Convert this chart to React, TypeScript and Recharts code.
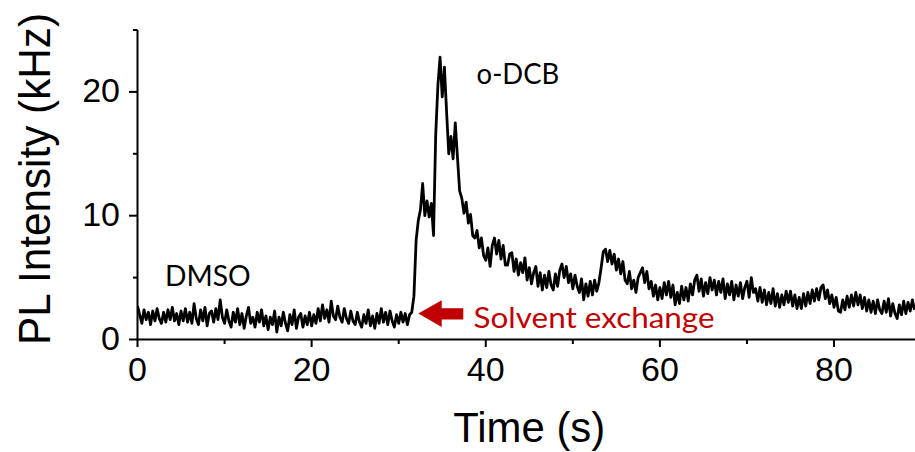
import React from "react";
import { LineChart, Line, XAxis, YAxis, ReferenceDot } from "recharts";

// Sampling interval of the recorded trace (s)
const sampleStep = 0.25;

// PL intensity (kHz), one value every 0.25 s starting at t = 0 s
const intensity: number[] = [
  // 0 – 4.75 s
  2.7, 2.0, 1.3, 2.4, 1.6, 2.2, 1.2, 2.3, 1.5, 2.5, 1.7, 1.3, 2.2, 1.4, 2.4, 1.6, 2.6, 1.5, 2.1, 1.2,
  // 5 – 9.75 s
  2.3, 1.5, 2.5, 1.4, 2.2, 1.3, 2.9, 1.7, 1.2, 2.4, 1.5, 2.6, 1.1, 2.1, 2.3, 1.4, 2.5, 1.6, 3.2, 1.8,
  // 10 – 14.75 s
  1.3, 2.4, 1.5, 1.0, 2.2, 1.4, 2.5, 1.2, 2.1, 0.9, 1.9, 2.6, 1.3, 1.8, 1.0, 2.2, 1.4, 2.4, 1.1, 1.9,
  // 15 – 19.75 s
  0.8, 1.8, 1.2, 2.3, 0.6, 1.8, 1.1, 2.2, 1.3, 0.7, 2.0, 1.2, 2.4, 0.9, 1.8, 2.1, 1.0, 1.9, 1.2, 2.2,
  // 20 – 24.75 s
  1.1, 2.0, 1.3, 2.5, 1.5, 2.8, 1.7, 2.4, 1.4, 3.1, 1.9, 1.6, 2.7, 1.8, 1.4, 2.5, 1.7, 1.3, 2.3, 1.5,
  // 25 – 29.75 s
  1.2, 2.2, 1.4, 1.0, 2.0, 1.3, 2.4, 1.1, 1.9, 0.9, 2.1, 1.3, 2.5, 1.4, 2.2, 1.2, 2.3, 1.5, 1.0, 2.0,
  // 30 – 34.75 s
  1.3, 2.2, 1.4, 2.1, 1.2, 2.0, 2.2, 3.5, 8.0, 9.6, 10.5, 12.6, 10.0, 11.2, 9.9, 11.0, 8.4, 16.5, 20.5, 22.8,
  // 35 – 39.75 s
  19.6, 22.0, 18.4, 15.0, 16.4, 14.6, 17.5, 14.7, 12.0, 11.4, 10.2, 11.1, 9.4, 10.1, 8.4, 8.2, 8.8, 7.4, 8.2, 6.8,
  // 40 – 44.75 s
  6.4, 7.4, 5.9, 7.6, 8.2, 6.9, 8.0, 6.5, 7.6, 6.0, 6.0, 6.9, 7.0, 5.5, 6.5, 5.2, 6.2, 5.4, 6.6, 4.8,
  // 45 – 49.75 s
  5.8, 4.5, 5.4, 5.9, 4.3, 5.4, 4.0, 5.2, 4.2, 5.5, 4.4, 4.0, 5.3, 4.3, 5.6, 6.1, 5.0, 5.9, 4.6, 5.3,
  // 50 – 54.75 s
  4.1, 5.2, 4.3, 3.8, 4.9, 3.2, 4.5, 3.5, 4.7, 3.6, 4.8, 3.9, 4.6, 5.8, 7.1, 7.3, 6.3, 7.2, 6.1, 6.9,
  // 55 – 59.75 s
  5.6, 6.5, 5.3, 6.3, 4.8, 4.5, 5.5, 4.1, 4.8, 3.8, 5.0, 5.4, 5.8, 4.6, 5.5, 4.1, 4.7, 3.5, 4.4, 3.2,
  // 60 – 64.75 s
  4.2, 3.3, 4.6, 3.6, 4.7, 3.4, 4.4, 2.8, 3.8, 2.9, 4.3, 3.2, 4.2, 3.1, 4.5, 3.6, 4.8, 5.2, 3.9, 4.9,
  // 65 – 69.75 s
  3.5, 4.6, 3.7, 5.0, 4.0, 4.8, 3.6, 4.7, 3.8, 4.9, 3.3, 4.5, 3.6, 4.7, 3.2, 4.4, 3.5, 4.6, 3.3, 4.2,
  // 70 – 74.75 s
  4.7, 3.4, 5.0, 3.8, 4.1, 3.1, 4.2, 3.0, 4.0, 2.8, 3.8, 2.9, 4.1, 2.7, 3.7, 2.6, 3.6, 2.8, 3.9, 3.0,
  // 75 – 79.75 s
  3.9, 2.7, 3.6, 2.5, 3.4, 2.5, 3.7, 2.7, 3.8, 2.9, 4.0, 3.1, 4.1, 3.2, 4.2, 4.4, 3.3, 4.0, 2.9, 3.6,
  // 80 – 84.75 s
  2.6, 3.4, 2.3, 2.2, 3.2, 2.4, 3.5, 2.6, 3.6, 2.7, 3.8, 2.8, 3.6, 2.5, 3.4, 2.3, 3.2, 2.2, 3.1, 2.1,
  // 85 – 89.25 s
  3.2, 2.4, 2.1, 3.1, 2.2, 3.3, 1.9, 2.9, 2.1, 1.7, 2.8, 2.0, 3.1, 2.1, 3.0, 2.3, 3.2, 2.4,
];

// Axis ticks (major ticks carry labels, minor ticks are short and unlabeled)
const xTicks = [0, 10, 20, 30, 40, 50, 60, 70, 80];
const xMajorTicks = [0, 20, 40, 60, 80];
const yTicks = [0, 5, 10, 15, 20, 25];
const yMajorTicks = [0, 10, 20];
const xDomain: [number, number] = [0, 89.3];
const yDomain: [number, number] = [0, 25];

// Text labels
const xTitle = "Time (s)";
const yTitle = "PL Intensity (kHz)";
const dmsoLabel = { t: 3.15, v: 4.3, text: "DMSO" };
const dcbLabel = { t: 38.95, v: 20.6, text: "o-DCB" };
const exchangeLabel = { t: 38.6, v: 0.9, text: "Solvent exchange" };
const arrowTip = { t: 32.25, v: 2.1 };

const data = intensity.map((v, i) => ({ t: i * sampleStep, v }));

const RED = "#C00000";
const AXIS_FONT = "'Liberation Sans', Arial, sans-serif";
const NOTE_FONT = "Lato, 'Open Sans', sans-serif";

const XTick = (props: any) => {
  const { x, y, payload } = props;
  const major = xMajorTicks.includes(payload.value);
  return (
    <g>
      <line x1={x} x2={x} y1={y} y2={y + (major ? 7.5 : 4.5)} stroke="#000" strokeWidth={2} />
      {major && (
        <text x={x} y={y} dy={41.5} textAnchor="middle" fontFamily={AXIS_FONT} fontSize={34} fill="#000">
          {payload.value}
        </text>
      )}
    </g>
  );
};

const YTick = (props: any) => {
  const { x, y, payload } = props;
  const major = yMajorTicks.includes(payload.value);
  return (
    <g>
      <line x1={x - (major ? 8.5 : 4.5)} x2={x} y1={y} y2={y} stroke="#000" strokeWidth={2} />
      {major && (
        <text x={x - 17.5} y={y} dy={10} textAnchor="end" fontFamily={AXIS_FONT} fontSize={34} fill="#000">
          {payload.value}
        </text>
      )}
    </g>
  );
};

const makeNote = (text: string, color: string, len: number) => (p: any) => (
  <text
    x={p.cx}
    y={p.cy}
    textAnchor="start"
    fontFamily={NOTE_FONT}
    fontSize={29}
    fill={color}
    textLength={len}
    lengthAdjust="spacingAndGlyphs"
  >
    {text}
  </text>
);

const ArrowShape = (p: any) => {
  const { cx, cy } = p;
  const pts = [
    [cx, cy],
    [cx + 23.4, cy - 13.3],
    [cx + 23.4, cy - 5.3],
    [cx + 45, cy - 5.3],
    [cx + 45, cy + 6],
    [cx + 23.4, cy + 6],
    [cx + 23.4, cy + 13.4],
  ]
    .map((q) => q.join(","))
    .join(" ");
  return <polygon points={pts} fill={RED} />;
};

export default function App() {
  return (
    <div style={{ position: "absolute", left: 0, top: 0, width: 915, height: 452, background: "#fff" }}>
      <LineChart
        width={915}
        height={452}
        data={data}
        margin={{ top: 30, right: 0, bottom: 72.5, left: 97.5 }}
      >
        <XAxis
          dataKey="t"
          type="number"
          domain={xDomain}
          allowDataOverflow
          ticks={xTicks}
          height={40}
          tickSize={0}
          tickMargin={0}
          axisLine={{ stroke: "#000", strokeWidth: 2 }}
          tickLine={false}
          tick={<XTick />}
          interval={0}
          label={{
            content: (p: any) => {
              const vb = p.viewBox || { x: 137.5, y: 339.5, width: 777.5 };
              return (
                <text
                  x={vb.x + vb.width / 2 + 3}
                  y={vb.y + 102.2}
                  textAnchor="middle"
                  fontFamily={AXIS_FONT}
                  fontSize={42}
                  fill="#000"
                  textLength={152}
                  lengthAdjust="spacingAndGlyphs"
                >
                  {xTitle}
                </text>
              );
            },
          }}
        />
        <YAxis
          type="number"
          domain={yDomain}
          allowDataOverflow
          ticks={yTicks}
          width={40}
          tickSize={0}
          tickMargin={0}
          axisLine={{ stroke: "#000", strokeWidth: 2 }}
          tickLine={false}
          tick={<YTick />}
          interval={0}
          label={{
            content: (p: any) => {
              const vb = p.viewBox || { x: 97.5, y: 30, width: 40, height: 309.5 };
              const cx = vb.x + vb.width - 87.5;
              const cy = vb.y + vb.height / 2 - 5.8;
              return (
                <text
                  x={cx}
                  y={cy}
                  transform={`rotate(-90, ${cx}, ${cy})`}
                  textAnchor="middle"
                  fontFamily={AXIS_FONT}
                  fontSize={44}
                  fill="#000"
                  textLength={332}
                  lengthAdjust="spacingAndGlyphs"
                >
                  {yTitle}
                </text>
              );
            },
          }}
        />
        <Line
          dataKey="v"
          type="linear"
          stroke="#000"
          strokeWidth={2.8}
          dot={false}
          isAnimationActive={false}
          strokeLinejoin="round"
        />
        <ReferenceDot x={arrowTip.t} y={arrowTip.v} r={0} shape={ArrowShape} />
        <ReferenceDot x={dmsoLabel.t} y={dmsoLabel.v} r={0} shape={makeNote(dmsoLabel.text, "#000", 85.7)} />
        <ReferenceDot x={dcbLabel.t} y={dcbLabel.v} r={0} shape={makeNote(dcbLabel.text, "#000", 82.7)} />
        <ReferenceDot
          x={exchangeLabel.t}
          y={exchangeLabel.v}
          r={0}
          shape={makeNote(exchangeLabel.text, RED, 241)}
        />
      </LineChart>
    </div>
  );
}
